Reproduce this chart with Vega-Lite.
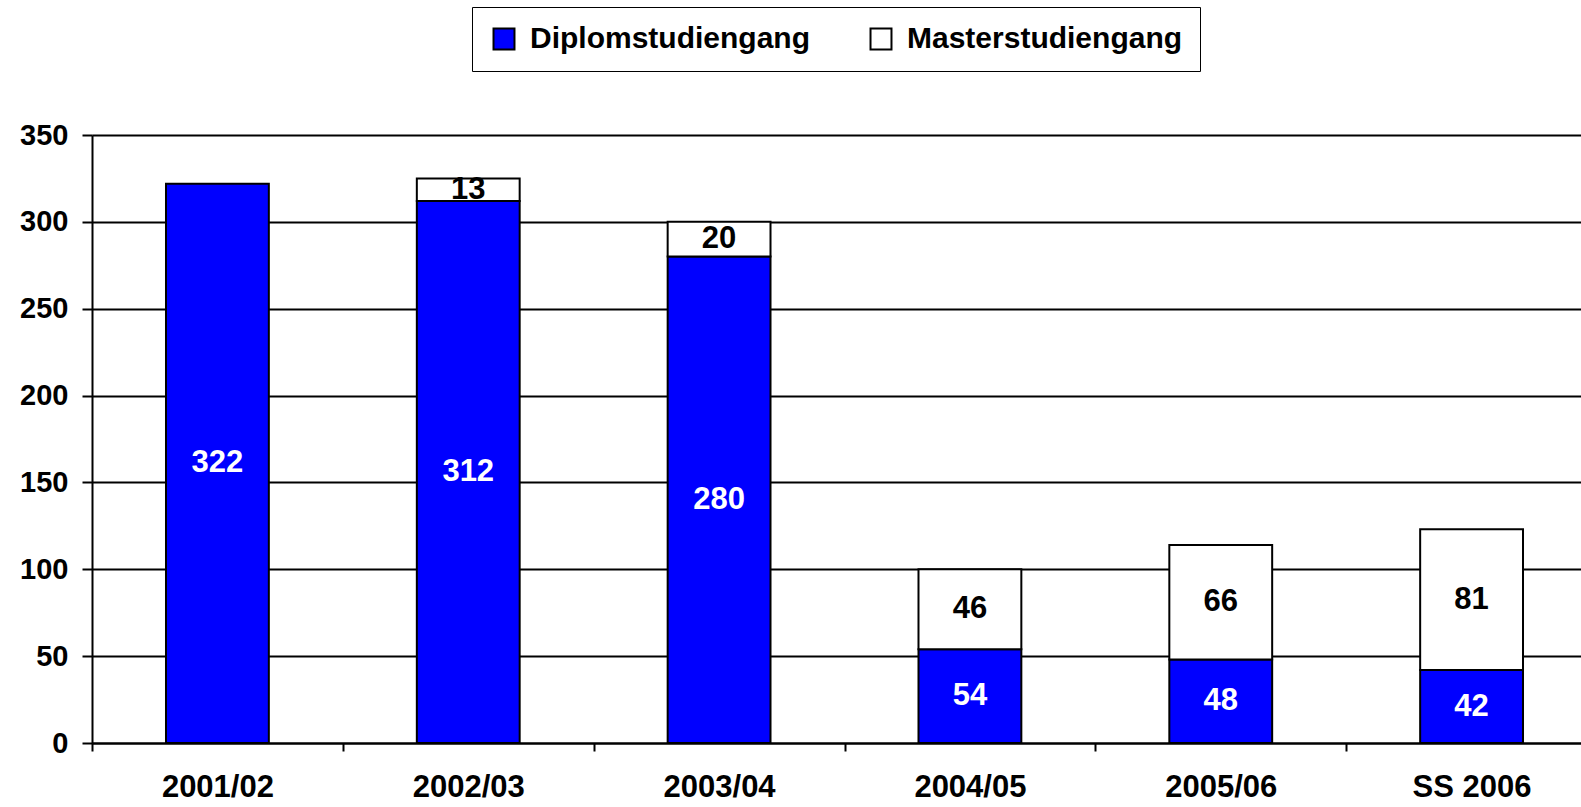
{
  "$schema": "https://vega.github.io/schema/vega-lite/v6.json",
  "width": 1505,
  "height": 608,
  "autosize": "none",
  "padding": {"left": 92, "top": 135, "right": 0, "bottom": 64},
  "background": "white",
  "config": {
    "font": "Liberation Sans",
    "view": {"stroke": null}
  },
  "data": {
    "values": [
      {"year": "2001/02", "series": "Diplomstudiengang", "rank": 1, "value": 322},
      {"year": "2002/03", "series": "Diplomstudiengang", "rank": 1, "value": 312},
      {"year": "2002/03", "series": "Masterstudiengang", "rank": 2, "value": 13},
      {"year": "2003/04", "series": "Diplomstudiengang", "rank": 1, "value": 280},
      {"year": "2003/04", "series": "Masterstudiengang", "rank": 2, "value": 20},
      {"year": "2004/05", "series": "Diplomstudiengang", "rank": 1, "value": 54},
      {"year": "2004/05", "series": "Masterstudiengang", "rank": 2, "value": 46},
      {"year": "2005/06", "series": "Diplomstudiengang", "rank": 1, "value": 48},
      {"year": "2005/06", "series": "Masterstudiengang", "rank": 2, "value": 66},
      {"year": "SS 2006", "series": "Diplomstudiengang", "rank": 1, "value": 42},
      {"year": "SS 2006", "series": "Masterstudiengang", "rank": 2, "value": 81}
    ]
  },
  "encoding": {
    "x": {
      "field": "year",
      "type": "nominal",
      "sort": null,
      "scale": {"paddingInner": 0.59, "paddingOuter": 0.295},
      "axis": {
        "title": null,
        "labelAngle": 0,
        "labelFont": "Liberation Sans",
        "labelFontWeight": "bold",
        "labelFontSize": 31,
        "labelColor": "black",
        "labelPadding": 21,
        "tickOffset": -125.4,
        "labelOffset": 125.4,
        "tickSize": 8,
        "tickWidth": 2,
        "tickColor": "black",
        "domainColor": "black",
        "domainWidth": 2,
        "grid": false
      }
    }
  },
  "layer": [
    {
      "mark": {"type": "bar", "stroke": "black", "strokeWidth": 2},
      "encoding": {
        "y": {
          "field": "value",
          "type": "quantitative",
          "stack": "zero",
          "scale": {"domain": [0, 350], "nice": false},
          "axis": {
            "title": null,
            "values": [0, 50, 100, 150, 200, 250, 300, 350],
            "labelFont": "Liberation Sans",
            "labelFontWeight": "bold",
            "labelFontSize": 29,
            "labelColor": "black",
            "labelPadding": 14,
            "tickSize": 10,
            "tickWidth": 2,
            "tickColor": "black",
            "domainColor": "black",
            "domainWidth": 2,
            "grid": true,
            "gridColor": "black",
            "gridWidth": 2,
            "gridOpacity": 1
          }
        },
        "order": {"field": "rank", "type": "quantitative"},
        "color": {
          "field": "series",
          "type": "nominal",
          "scale": {"domain": ["Diplomstudiengang", "Masterstudiengang"], "range": ["#0000FF", "#FFFFFF"]},
          "legend": {
            "title": null,
            "orient": "none",
            "legendX": 380,
            "legendY": -128,
            "direction": "horizontal",
            "symbolType": "square",
            "symbolSize": 440,
            "symbolStrokeColor": "black",
            "symbolStrokeWidth": 2,
            "symbolOpacity": 1,
            "labelFont": "Liberation Sans",
            "labelFontWeight": "bold",
            "labelFontSize": 30,
            "labelColor": "black",
            "labelLimit": 500,
            "labelOffset": 11,
            "columnPadding": 56,
            "padding": 17,
            "strokeColor": "black",
            "fillColor": "white"
          }
        }
      }
    },
    {
      "transform": [
        {"stack": "value", "groupby": ["year"], "sort": [{"field": "rank"}], "as": ["v0", "v1"]},
        {"fold": ["v0", "v1"], "as": ["edge", "pos"]}
      ],
      "mark": {"type": "text", "font": "Liberation Sans", "fontWeight": "bold", "fontSize": 31, "baseline": "middle"},
      "encoding": {
        "y": {"field": "pos", "aggregate": "mean", "type": "quantitative"},
        "detail": {"field": "series", "type": "nominal"},
        "text": {"field": "value", "aggregate": "max", "type": "quantitative"},
        "color": {
          "condition": {"test": "datum.series === 'Diplomstudiengang'", "value": "white"},
          "value": "black"
        }
      }
    }
  ]
}
